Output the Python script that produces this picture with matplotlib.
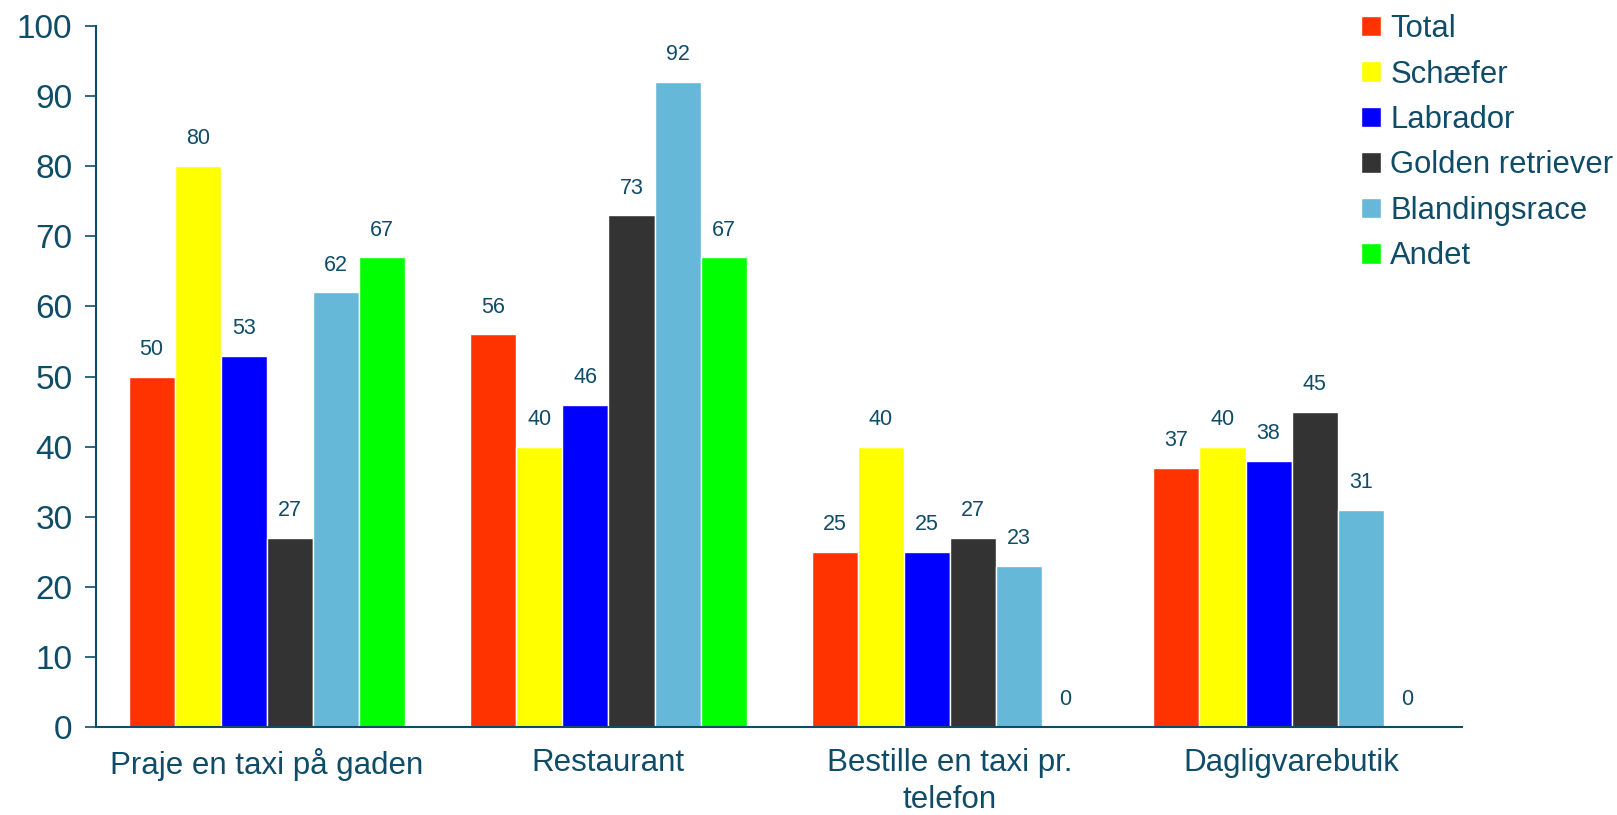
import matplotlib
matplotlib.use('Agg')
import matplotlib.pyplot as plt
import numpy as np

plt.rcParams['font.family'] = ['Liberation Sans', 'DejaVu Sans']

categories = ['Praje en taxi på gaden', 'Restaurant', 'Bestille en taxi pr.\ntelefon', 'Dagligvarebutik']
series = ['Total', 'Schæfer', 'Labrador', 'Golden retriever', 'Blandingsrace', 'Andet']
total = [50, 56, 25, 37]
schaefer = [80, 40, 40, 40]
labrador = [53, 46, 25, 38]
golden = [27, 73, 27, 45]
blanding = [62, 92, 23, 31]
andet = [67, 67, 0, 0]
values = [total, schaefer, labrador, golden, blanding, andet]

colors = ['#FF3300', '#FFFF00', '#0000FF', '#333333', '#66B8D8', '#00FF00']
text_col = '#0F4C68'

fig = plt.figure(figsize=(16.17, 8.15), dpi=100)
ax = fig.add_axes([0.0594, 0.108, 0.845, 0.860])

x = np.arange(len(categories))
w = 0.135
for i, (name, vals, c) in enumerate(zip(series, values, colors)):
    pos = x + (i - 2.5) * w
    ax.bar(pos, vals, width=w, color=c, edgecolor='white', linewidth=1, label=name)
    for px, v in zip(pos, vals):
        ax.text(px, v + 2.4, str(v), ha='center', va='bottom', fontsize=15.5, color=text_col)

ax.set_xlim(-0.5, 3.5)
ax.set_ylim(0, 100)
ax.set_yticks(range(0, 101, 10))
ax.set_xticks(x)
ax.set_xticklabels(categories, linespacing=1.3)
ax.tick_params(axis='y', labelsize=24, colors=text_col, length=8, width=1.2, pad=9)
ax.tick_params(axis='x', labelsize=22.5, colors=text_col, length=0, pad=15)
for s in ['top', 'right']:
    ax.spines[s].set_visible(False)
for s in ['left', 'bottom']:
    ax.spines[s].set_color(text_col)
    ax.spines[s].set_linewidth(1.5)

leg = ax.legend(loc='upper left', bbox_to_anchor=(0.834, 0.998), bbox_transform=fig.transFigure,
                frameon=False, fontsize=22.3, handlelength=0.65, handleheight=0.65,
                handletextpad=0.3, labelspacing=0.5, borderaxespad=0)
for t in leg.get_texts():
    t.set_color(text_col)

plt.savefig('out.png', dpi=100, facecolor='white')
